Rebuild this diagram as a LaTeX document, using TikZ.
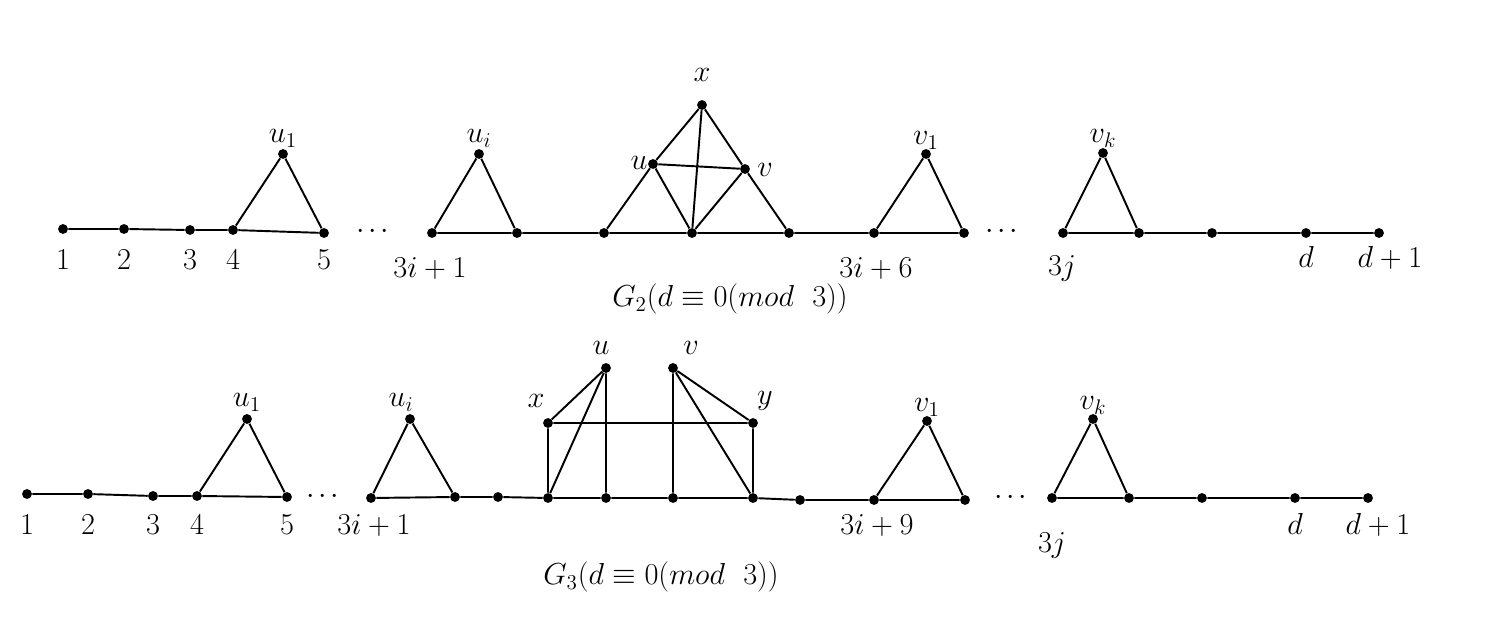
\documentclass[tikz,border=0pt]{standalone}
\begin{document}
\begin{tikzpicture}[x=0.02cm,y=-0.02cm,
  vtx/.style={circle,fill=black,inner sep=0pt,minimum size=5.6pt},
  edge/.style={line width=1.1pt},
  lbl/.style={anchor=base,inner sep=0pt,font=\LARGE},
  ell/.style={anchor=base,inner sep=0pt,font=\LARGE}]
\useasboundingbox (0,0) rectangle (1495,617);
% ---------- G2 ----------
\foreach \n/\x/\y in {a1/63/229,a2/124/229,a3/190/230,a4/233/230,a5/324/233,au1/283/154,
  a6/432/233,aui/479/154,a7/517/233,a8/604/233,au/653/164,ax/702/105,av/745/169,
  a9/692/233,a10/789/233,a11/874/233,av1/926/154,a12/964/233,a13/1063/233,
  avk/1103/153,a14/1139/233,a15/1212/233,a16/1306/233,a17/1379/233}
  \node[vtx] (\n) at (\x,\y) {};
\draw[edge] (a1)--(a2)--(a3)--(a4)--(a5) (a4)--(au1)--(a5)
  (a6)--(aui)--(a7) (a6)--(a7)--(a8)--(a9)--(a10)--(a11)--(a12)
  (a8)--(au)--(ax)--(av)--(a10) (au)--(av) (ax)--(a9) (au)--(a9)--(av)
  (a11)--(av1)--(a12) (a13)--(avk)--(a14) (a13)--(a14)--(a15)--(a16)--(a17);
\node[lbl] (la1) at (63,270) {$1$};
\node[lbl] (la2) at (124,270) {$2$};
\node[lbl] (la3) at (190,270) {$3$};
\node[lbl] (la4) at (233,270) {$4$};
\node[lbl] (la5) at (324,270) {$5$};
\node[lbl] (la6) at (430,278) {$3i+1$};
\node[lbl] (lau1) at (283,143) {$u_1$};
\node[lbl] (laui) at (479,143) {$u_i$};
\node[ell] (ldots1) at (373,239) {${\cdot}\mskip2mu{\cdot}\mskip2mu{\cdot}$};
\node[lbl] (lax) at (702,82) {$x$};
\node[lbl] (lau) at (639,170) {$u$};
\node[lbl] (lav) at (765,177) {$v$};
\node[lbl] (lav1) at (926,145) {$v_1$};
\node[lbl] (la11) at (876,278) {$3i+6$};
\node[ell] (ldots2) at (1002,239) {${\cdot}\mskip2mu{\cdot}\mskip2mu{\cdot}$};
\node[lbl] (lavk) at (1103,143) {$v_k$};
\node[lbl] (la13) at (1062,276) {$3j$};
\node[lbl] (la16) at (1306,268) {$d$};
\node[lbl] (la17) at (1390,268) {$d+1$};
\node[lbl] (capa) at (730,307) {$G_2(d\equiv 0(mod\ \ 3))$};
% ---------- G3 ----------
\foreach \n/\x/\y in {b1/27/494,b2/88/494,b3/153/496,b4/197/496,b5/287/497,bu1/247/419,
  b6/371/498,bui/410/419,b7/455/497,b8/498/497,b9/548/498,bx/548/423,bu/606/368,
  b10/606/498,bv/673/368,b11/673/498,by/753/423,b12/753/498,b13/800/500,b14/874/500,
  bv1/927/421,b15/965/500,b16/1052/498,bvk/1093/419,b17/1129/498,b18/1202/498,
  b19/1295/498,b20/1368/498}
  \node[vtx] (\n) at (\x,\y) {};
\draw[edge] (b1)--(b2)--(b3)--(b4)--(b5) (b4)--(bu1)--(b5)
  (b6)--(bui)--(b7) (b6)--(b7)--(b8)--(b9)--(b10)--(b11)--(b12)--(b13)--(b14)--(b15)
  (b9)--(bx)--(by)--(b12) (bx)--(bu)--(b9) (bu)--(b10) (bv)--(b11) (bv)--(b12) (bv)--(by)
  (b14)--(bv1)--(b15) (b16)--(bvk)--(b17) (b16)--(b17)--(b18)--(b19)--(b20);
\node[lbl] (lb1) at (27,535) {$1$};
\node[lbl] (lb2) at (88,535) {$2$};
\node[lbl] (lb3) at (153,535) {$3$};
\node[lbl] (lb4) at (197,535) {$4$};
\node[lbl] (lb5) at (287,535) {$5$};
\node[lbl] (lb6) at (374,535) {$3i+1$};
\node[lbl] (lbu1) at (247,407) {$u_1$};
\node[lbl] (lbui) at (401,407) {$u_i$};
\node[ell] (ldots3) at (323,504) {${\cdot}\mskip2mu{\cdot}\mskip2mu{\cdot}$};
\node[lbl] (lbx) at (536,408) {$x$};
\node[lbl] (lbu) at (601,355) {$u$};
\node[lbl] (lbv) at (691,355) {$v$};
\node[lbl] (lby) at (765,405) {$y$};
\node[lbl] (lbv1) at (927,412) {$v_1$};
\node[lbl] (lb14) at (877,535) {$3i+9$};
\node[ell] (ldots4) at (1011,505) {${\cdot}\mskip2mu{\cdot}\mskip2mu{\cdot}$};
\node[lbl] (lbvk) at (1093,410) {$v_k$};
\node[lbl] (lb16) at (1052,553) {$3j$};
\node[lbl] (lb19) at (1295,535) {$d$};
\node[lbl] (lb20) at (1378,535) {$d+1$};
\node[lbl] (capb) at (661,585) {$G_3(d\equiv 0(mod\ \ 3))$};
\end{tikzpicture}
\end{document}
